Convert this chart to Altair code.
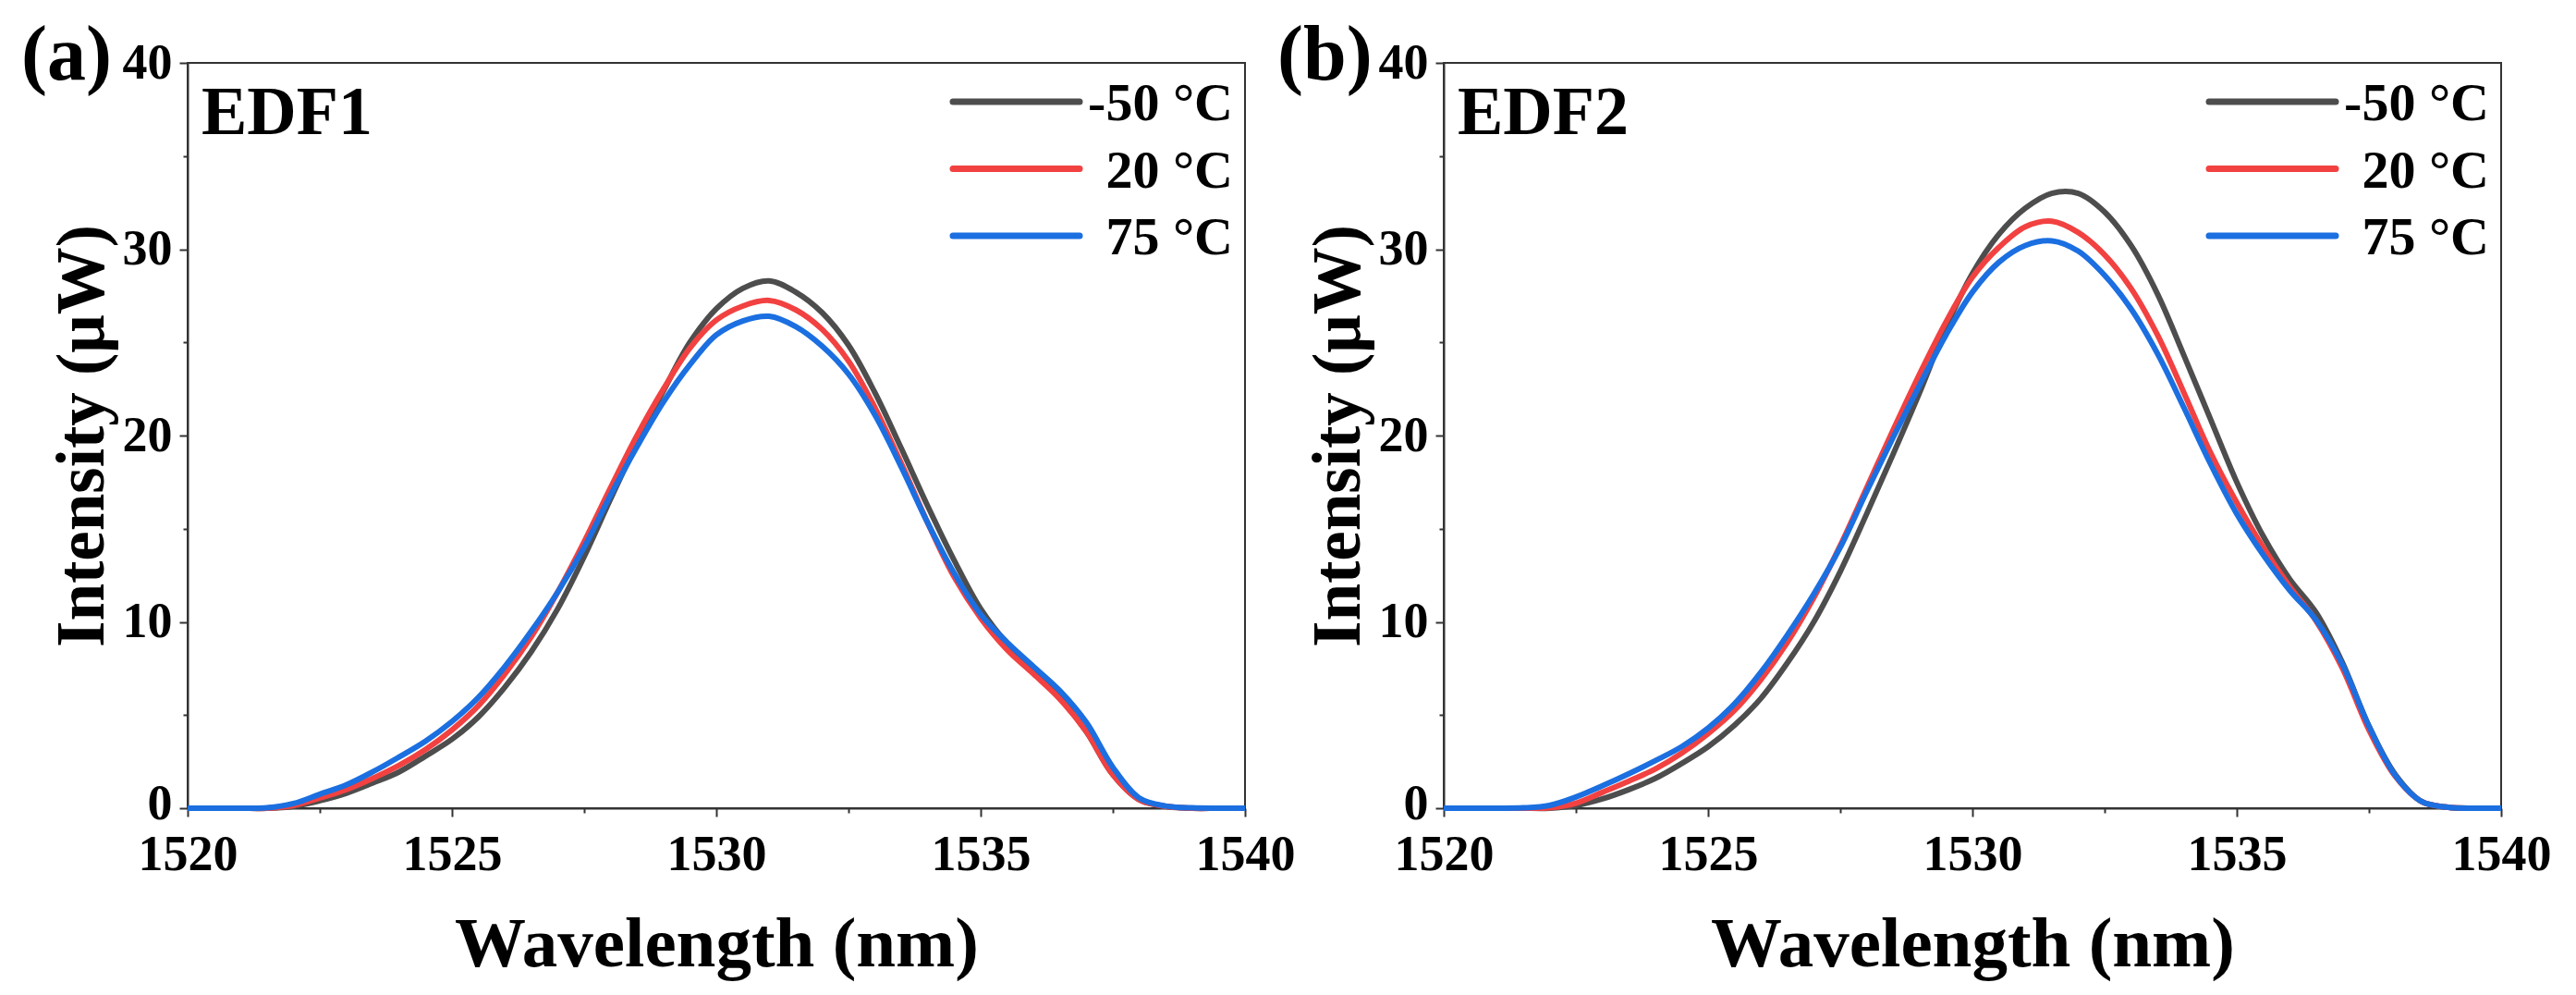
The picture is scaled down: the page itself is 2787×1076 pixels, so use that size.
import altair as alt
import pandas as pd

# ---------------- data ----------------
wavelength = [1520.0, 1520.5, 1521.0, 1521.5, 1522.0, 1522.5, 1523.0, 1523.5, 1524.0, 1524.5,
              1525.0, 1525.5, 1526.0, 1526.5, 1527.0, 1527.5, 1528.0, 1528.5, 1529.0, 1529.5,
              1530.0, 1530.5, 1531.0, 1531.5, 1532.0, 1532.5, 1533.0, 1533.5, 1534.0, 1534.5,
              1535.0, 1535.5, 1536.0, 1536.5, 1537.0, 1537.5, 1538.0, 1538.5, 1539.0, 1539.5,
              1540.0]

series_names = ["-50 °C", "20 °C", "75 °C"]
series_colors = ["#4d4d4d", "#f24141", "#1b6fe0"]

edf1_m50 = [0, 0, 0, 0, 0.1, 0.4, 0.8, 1.35, 1.95, 2.8, 3.7, 4.9, 6.5, 8.4, 10.7, 13.5, 16.6, 19.6, 22.4, 25.0,
            26.8, 27.9, 28.3, 27.7, 26.6, 24.85, 22.3, 19.3, 16.2, 13.3, 10.7, 8.85, 7.5, 5.95, 4.1, 1.8,
            0.45, 0.1, 0, 0, 0]
edf1_20 = [0, 0, 0, 0, 0.15, 0.55, 1.0, 1.6, 2.3, 3.15, 4.2, 5.5, 7.2, 9.2, 11.6, 14.3, 17.2, 20.0, 22.5, 24.7,
           26.2, 26.95, 27.25, 26.75, 25.7, 24.0, 21.5, 18.5, 15.3, 12.4, 10.2, 8.5, 7.2, 5.85, 4.1, 1.8,
           0.45, 0.1, 0, 0, 0]
edf1_75 = [0, 0, 0, 0.02, 0.25, 0.75, 1.25, 1.95, 2.75, 3.6, 4.65, 5.95, 7.6, 9.5, 11.6, 14.0, 16.8, 19.4, 21.8,
           23.8, 25.4, 26.15, 26.4, 25.85, 24.8, 23.3, 21.1, 18.3, 15.3, 12.6, 10.4, 8.9, 7.6, 6.3, 4.6, 2.2,
           0.55, 0.12, 0.02, 0, 0]

edf2_m50 = [0, 0, 0, 0, 0.0, 0.15, 0.5, 1.0, 1.6, 2.4, 3.3, 4.45, 5.9, 7.8, 10.0, 12.7, 15.8, 19.0, 22.3, 25.8,
            28.7, 30.8, 32.2, 33.0, 33.0, 32.0, 30.2, 27.6, 24.3, 20.9, 17.5, 14.6, 12.3, 10.5, 7.8, 4.4,
            1.8, 0.35, 0.05, 0, 0]
edf2_20 = [0, 0, 0, 0, 0.02, 0.27, 0.85, 1.45, 2.1, 2.95, 4.0, 5.25, 6.9, 8.9, 11.3, 14.1, 17.2, 20.3, 23.3, 26.1,
           28.5, 30.1, 31.2, 31.5, 30.9, 29.7, 27.9, 25.4, 22.3, 19.1, 16.4, 14.0, 11.9, 10.05, 7.5, 4.2,
           1.7, 0.35, 0.05, 0, 0]
edf2_75 = [0, 0, 0, 0.02, 0.15, 0.6, 1.2, 1.85, 2.55, 3.3, 4.3, 5.6, 7.3, 9.3, 11.5, 14.0, 17.0, 19.9, 22.7, 25.4,
           27.7, 29.3, 30.2, 30.45, 29.9, 28.6, 26.8, 24.4, 21.5, 18.5, 15.8, 13.6, 11.7, 10.1, 7.7, 4.4,
           1.75, 0.35, 0.05, 0, 0]

x_ticks = [1520, 1522.5, 1525, 1527.5, 1530, 1532.5, 1535, 1537.5, 1540]
y_ticks = [0, 5, 10, 15, 20, 25, 30, 35, 40]

panel_tags = ["(a)", "(b)"]
fiber_names = ["EDF1", "EDF2"]
x_title = "Wavelength (nm)"
y_title = "Intensity (μW)"

FONT = "Liberation Serif"
W, H = 1144, 806


def make_panel(series_values, tag, fiber):
    rows = []
    for i, (name, vals) in enumerate(zip(series_names, series_values)):
        for wl, v in zip(wavelength, vals):
            rows.append({"wavelength": wl, "intensity": v, "series": name, "series_order": i})
    df = pd.DataFrame(rows)

    color = alt.Color("series:N", scale=alt.Scale(domain=series_names, range=series_colors),
                      legend=None)

    x_axis = alt.Axis(
        values=x_ticks, format="d", title=x_title, grid=False, labelFlush=False,
        labelExpr="datum.value % 5 === 0 ? datum.label : ''",
        tickSize={"condition": {"test": "datum.value % 5 === 0", "value": 9}, "value": 5},
        labelPadding=14, titlePadding=32, titleFontSize=77,
    )
    y_axis = alt.Axis(
        values=y_ticks, format="d", title=y_title, grid=False, labelFlush=False,
        labelExpr="datum.value % 10 === 0 ? datum.label : ''",
        labelOffset={"condition": {"test": "datum.value === 0", "value": -5}, "value": 0},
        tickSize={"condition": {"test": "datum.value % 10 === 0", "value": 9}, "value": 5},
        labelPadding=8, titlePadding=6,
    )

    lines = alt.Chart(df).mark_line(strokeWidth=6, interpolate="catmull-rom").encode(
        x=alt.X("wavelength:Q", scale=alt.Scale(domain=[1520, 1540], nice=False, zero=False), axis=x_axis),
        y=alt.Y("intensity:Q", scale=alt.Scale(domain=[0, 40], nice=False), axis=y_axis),
        color=color,
        detail="series:N",
        order=alt.Order("series_order:Q"),
    )

    leg_df = pd.DataFrame({"series": series_names})
    leg_y = alt.Y("series:N", scale=alt.Scale(type="point", domain=series_names, range=[42, 187], padding=0),
                  axis=None)
    leg_rule = alt.Chart(leg_df).mark_rule(strokeWidth=7, strokeCap="round").encode(
        x=alt.value(828), x2=alt.value(965), y=leg_y, color=color
    )
    leg_text = alt.Chart(leg_df).mark_text(
        align="right", baseline="alphabetic", dy=20, font=FONT, fontSize=58, fontWeight="bold", color="black"
    ).encode(x=alt.value(1131), y=leg_y, text="series:N")

    tag_text = alt.Chart(pd.DataFrame({"t": [tag]})).mark_text(
        align="left", baseline="alphabetic", font=FONT, fontSize=84, fontWeight="bold", color="black"
    ).encode(x=alt.value(-180), y=alt.value(18), text="t:N")

    name_text = alt.Chart(pd.DataFrame({"t": [fiber]})).mark_text(
        align="left", baseline="alphabetic", font=FONT, fontSize=74, fontWeight="bold", color="black"
    ).encode(x=alt.value(15), y=alt.value(77), text="t:N")

    return alt.layer(lines, leg_rule, leg_text, tag_text, name_text).resolve_scale(
        y="independent"
    ).properties(width=W, height=H)


pa = make_panel([edf1_m50, edf1_20, edf1_75], panel_tags[0], fiber_names[0])
pb = make_panel([edf2_m50, edf2_20, edf2_75], panel_tags[1], fiber_names[1])

chart = alt.hconcat(pa, pb, spacing=215, bounds="flush").properties(
    padding={"left": 14, "top": 10, "right": 5, "bottom": 5},
    background="white",
).configure_view(
    stroke="#333333", strokeWidth=2
).configure_axis(
    domainColor="#333333", domainWidth=2, tickColor="#333333", tickWidth=2,
    labelFont=FONT, labelFontSize=54, labelFontWeight="bold", labelColor="black",
    titleFont=FONT, titleFontSize=73, titleFontWeight="bold", titleColor="black",
)

chart.save("out.html", embed_options={"renderer": "svg", "actions": False})
